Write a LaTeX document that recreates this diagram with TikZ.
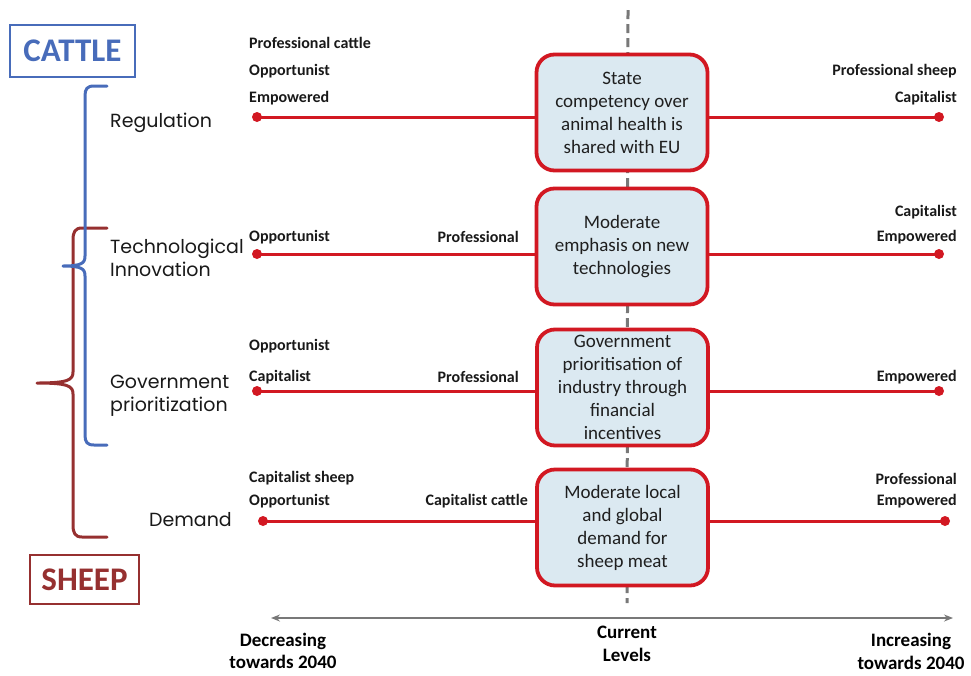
\documentclass[tikz,border=0pt]{standalone}
\usepackage{fontspec}
\setmainfont{Carlito}
\newfontfamily\gfont{Poppins}
\usetikzlibrary{arrows.meta}
\definecolor{lred}{RGB}{210,24,34}
\definecolor{bfill}{RGB}{219,233,241}
\definecolor{cblue}{RGB}{72,108,186}
\definecolor{dred}{RGB}{150,48,48}
\definecolor{dgray}{RGB}{120,120,120}
\tikzset{
  stbox/.style={draw=lred, line width=3.8pt, fill=bfill, rounded corners=18pt,
    minimum width=171pt, minimum height=116pt, align=center, inner sep=2pt,
    font=\fontsize{19}{23}\selectfont, text=black!88},
  dot/.style={circle, fill=lred, inner sep=0pt, minimum size=10pt},
  rline/.style={draw=lred, line width=3pt},
  lab/.style={inner sep=0pt, font=\fontsize{16}{18}\bfseries\selectfont, text=black!90},
  cat/.style={inner sep=0pt, font=\gfont\fontsize{19}{22.5}\selectfont, align=left, text=black!90},
  grp/.style={draw=#1, line width=2.5pt, text=#1, inner sep=0pt,
    font=\fontsize{33}{35}\bfseries\selectfont},
  brace/.style={draw=#1, line width=3pt, line cap=round, line join=round},
  axl/.style={inner sep=0pt, align=center, font=\fontsize{19}{22.5}\bfseries\selectfont}
}
\begin{document}
\begin{tikzpicture}[x=1pt,y=-1pt]
\useasboundingbox (0,0) rectangle (971,675);
% dashed centre line
\coordinate (ctop) at (628,10);
\coordinate (cbot) at (627,603);
\draw[dgray, line width=3pt, dash pattern=on 9pt off 5pt] (ctop) -- (cbot);
% bottom axis
\coordinate (axL) at (271,618);
\coordinate (axR) at (953,618);
\draw[dgray, line width=2pt, {Stealth[length=9pt,width=7pt,inset=3pt]}-{Stealth[length=9pt,width=7pt,inset=3pt]}] (axL) -- (axR);

% boxes
\node[stbox] (b1) at (622,112.5) {State\\competency over\\animal health is\\shared with EU};
\node[stbox] (b2) at (622,246.5) {Moderate\\emphasis on new\\technologies};
\node[stbox] (b3) at (622.5,387.5) {Government\\prioritisation of\\industry through\\financial\\incentives};
\node[stbox] (b4) at (622.5,527.5) {Moderate local\\and global\\demand for\\sheep meat};

% dots
\node[dot] (l1) at (257,117) {};
\node[dot] (r1) at (939,117) {};
\node[dot] (l2) at (257,254) {};
\node[dot] (r2) at (939,254) {};
\node[dot] (l3) at (257,391) {};
\node[dot] (r3) at (939,391) {};
\node[dot] (l4) at (263,521) {};
\node[dot] (r4) at (945,521) {};

% lines
\draw[rline] (l1.center) -- (b1.west |- l1.center);
\draw[rline] (b1.east |- r1.center) -- (r1.center);
\draw[rline] (l2.center) -- (b2.west |- l2.center);
\draw[rline] (b2.east |- r2.center) -- (r2.center);
\draw[rline] (l3.center) -- (b3.west |- l3.center);
\draw[rline] (b3.east |- r3.center) -- (r3.center);
\draw[rline] (l4.center) -- (b4.west |- l4.center);
\draw[rline] (b4.east |- r4.center) -- (r4.center);

% left labels
\node[lab, anchor=west] (t1a) at (249,43) {Professional cattle};
\node[lab, anchor=west] (t1b) at (249,71) {Opportunist};
\node[lab, anchor=west] (t1c) at (249,98) {Empowered};
\node[lab, anchor=west] (t2a) at (249,237) {Opportunist};
\node[lab, anchor=east] (t2b) at (519,237) {Professional};
\node[lab, anchor=west] (t3a) at (249,346) {Opportunist};
\node[lab, anchor=west] (t3b) at (249,377) {Capitalist};
\node[lab, anchor=east] (t3c) at (519,377) {Professional};
\node[lab, anchor=west] (t4a) at (249,478) {Capitalist sheep};
\node[lab, anchor=west] (t4b) at (249,501) {Opportunist};
\node[lab, anchor=east] (t4c) at (528,501) {Capitalist cattle};
% right labels
\node[lab, anchor=east] (s1a) at (957,71) {Professional sheep};
\node[lab, anchor=east] (s1b) at (957,98) {Capitalist};
\node[lab, anchor=east] (s2a) at (957,212) {Capitalist};
\node[lab, anchor=east] (s2b) at (957,237) {Empowered};
\node[lab, anchor=east] (s3a) at (957,377) {Empowered};
\node[lab, anchor=east] (s4a) at (957,479) {Professional};
\node[lab, anchor=east] (s4b) at (957,501) {Empowered};

% categories
\node[cat, anchor=west] (reg) at (110,123) {Regulation};
\node[cat, anchor=west] (tech) at (110,258) {Technological\\Innovation};
\node[cat, anchor=west] (gov) at (110,396) {Government\\prioritization};
\node[cat, anchor=east] (dem) at (232,520) {Demand};

% group boxes
\node[grp=cblue, minimum width=125pt, minimum height=52pt] (cattle) at (72.5,51) {CATTLE};
\node[grp=dred, minimum width=109pt, minimum height=49pt] (sheep) at (84.5,579.5) {SHEEP};

% braces
\draw[brace=dred] (107,228) -- (82,228) .. controls (75,228) and (73,232) .. (73,240)
  -- (73,372) .. controls (73,380) and (68,383) .. (37,383)
  .. controls (68,383) and (73,386) .. (73,394)
  -- (73,525) .. controls (73,533) and (75,537) .. (82,537) -- (107,537);
\draw[brace=cblue] (107,86) -- (94,86) .. controls (87,86) and (85,89) .. (85,96)
  -- (85,256) .. controls (85,263) and (82,266) .. (63,266)
  .. controls (82,266) and (85,269) .. (85,276)
  -- (85,435) .. controls (85,442) and (87,445) .. (94,445) -- (107,445);

% axis labels
\node[axl] (dec) at (283,651) {Decreasing\\towards 2040};
\node[axl] (cur) at (627,644) {Current\\Levels};
\node[axl] (inc) at (911,651.5) {Increasing\\towards 2040};
\end{tikzpicture}
\end{document}
